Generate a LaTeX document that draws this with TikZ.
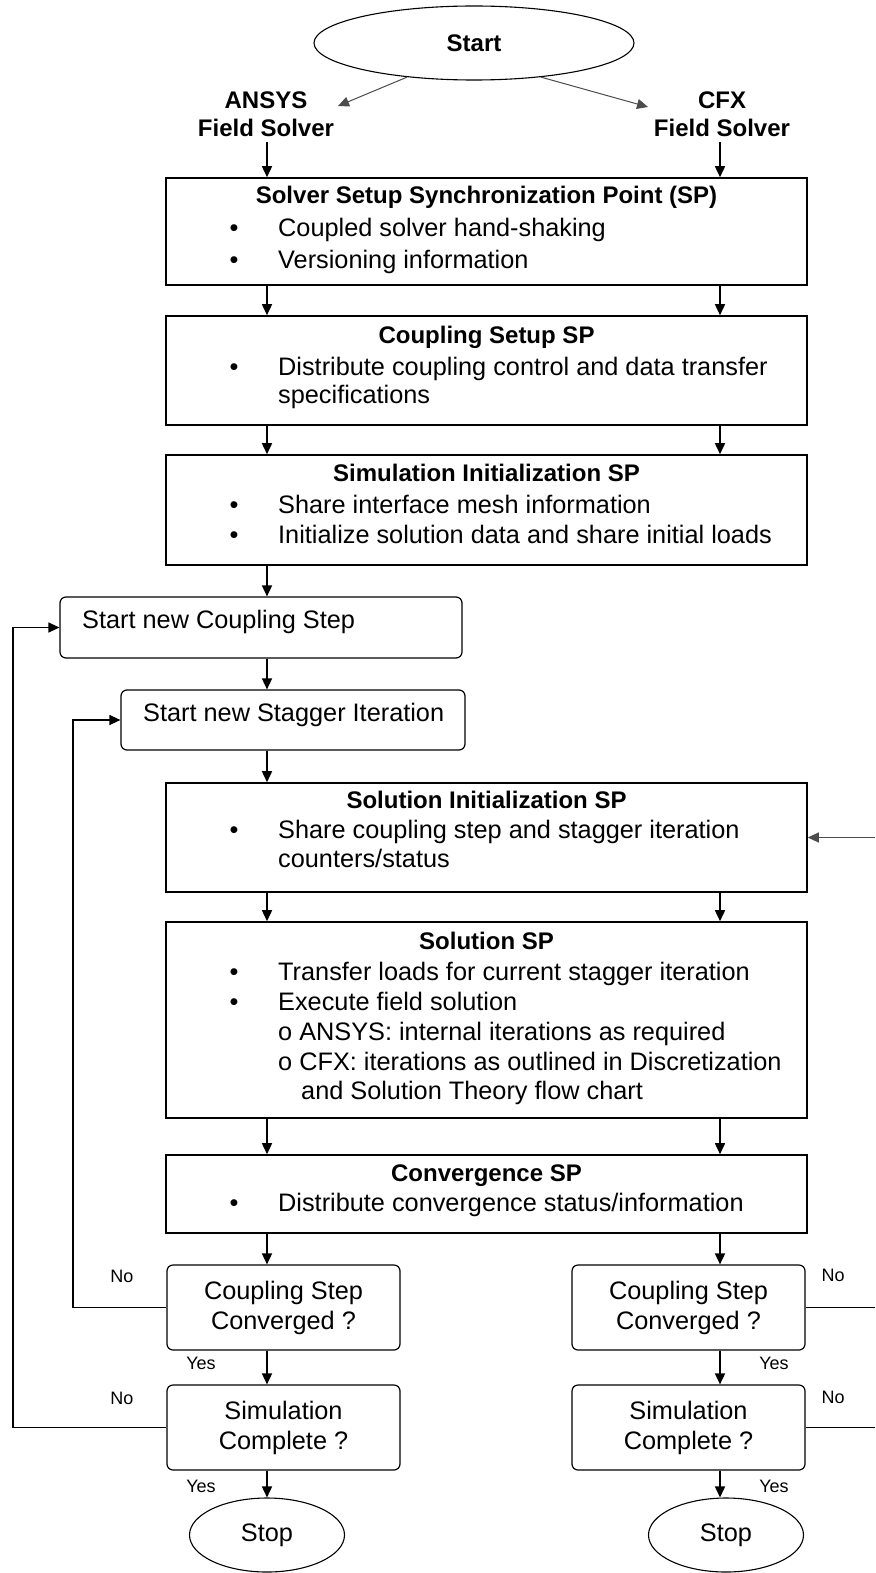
\documentclass[tikz,border=0pt]{standalone}
\usepackage{fontspec}
\setmainfont{Liberation Sans}
\usetikzlibrary{arrows.meta,shapes.geometric}
\begin{document}
\begin{tikzpicture}[x=1pt,y=1pt,
  spbox/.style={draw,line width=1.6pt,minimum width=641pt,inner sep=0pt},
  rbox/.style={draw,line width=1.2pt,rounded corners=6pt,inner sep=0pt},
  oval/.style={draw,ellipse,line width=1.1pt,inner sep=0pt},
  arr/.style={line width=1.6pt,-{Triangle[length=11pt,width=10pt]}},
  thinarr/.style={line width=1pt,gray!60!black,-{Triangle[length=11pt,width=10pt]}},
  lline/.style={line width=1.2pt},
  txt/.style={font=\fontsize{25.3}{30}\selectfont,inner sep=0pt,anchor=mid west},
  ctxt/.style={font=\fontsize{25.3}{30}\selectfont,inner sep=0pt,anchor=center,align=center},
  ttl/.style={font=\bfseries\fontsize{24}{30}\selectfont,inner sep=0pt,anchor=mid},
  bul/.style={font=\fontsize{25.3}{30}\selectfont,inner sep=0pt,anchor=mid},
  lbl/.style={font=\fontsize{18}{20}\selectfont,inner sep=0pt,anchor=mid},
  hdr/.style={font=\bfseries\fontsize{24}{30}\selectfont,inner xsep=0pt,inner ysep=5pt,anchor=mid},
]
\useasboundingbox (0,0) rectangle (875,-1573);
\fill[white] (0,0) rectangle (875,-1573);

% helper coordinates
\coordinate (ax) at (267,0);
\coordinate (bx) at (720,0);
\coordinate (lo) at (13,0);
\coordinate (li) at (73,0);
\coordinate (re) at (875,0);

% Start
\node[oval,minimum width=320pt,minimum height=74pt,font=\bfseries\fontsize{24}{28}\selectfont] (start) at (474,-43) {Start};
\coordinate (la) at (338,-106);
\coordinate (ra) at (648,-107);
\draw[thinarr] (start.207) -- (la);
\draw[thinarr] (start.-27) -- (ra);

\node[hdr] (ans) at (266,-106) {ANSYS};
\node[hdr] (fs1) at (266,-134) {Field Solver};
\node[hdr] (cfx) at (722,-106) {CFX};
\node[hdr] (fs2) at (722,-134) {Field Solver};

% SP boxes
\node[spbox,minimum height=107pt] (b1) at (486.5,-231.5) {};
\node[ttl] (b1t) at (486.5,-201) {Solver Setup Synchronization Point (SP)};
\node[bul] (b1b1) at (234,-234) {\textbullet};
\node[txt] (b1l1) at (278,-234) {Coupled solver hand-shaking};
\node[bul] (b1b2) at (234,-266) {\textbullet};
\node[txt] (b1l2) at (278,-266) {Versioning information};

\node[spbox,minimum height=109pt] (b2) at (486.5,-370.5) {};
\node[ttl] (b2t) at (486.5,-341) {Coupling Setup SP};
\node[bul] (b2b1) at (234,-373) {\textbullet};
\node[txt] (b2l1) at (278,-373) {Distribute coupling control and data transfer};
\node[txt] (b2l2) at (278,-401) {specifications};

\node[spbox,minimum height=110pt] (b3) at (486.5,-510) {};
\node[ttl] (b3t) at (486.5,-479) {Simulation Initialization SP};
\node[bul] (b3b1) at (234,-511) {\textbullet};
\node[txt] (b3l1) at (278,-511) {Share interface mesh information};
\node[bul] (b3b2) at (234,-541) {\textbullet};
\node[txt] (b3l2) at (278,-541) {Initialize solution data and share initial loads};

% Coupling step / stagger
\node[rbox,minimum width=402pt,minimum height=61pt] (cs) at (261,-627.5) {};
\node[txt] (cst) at (82,-626) {Start new Coupling Step};
\node[rbox,minimum width=344pt,minimum height=60pt] (st) at (293,-720) {};
\node[txt] (stt) at (143,-719) {Start new Stagger Iteration};

% Solution init
\node[spbox,minimum height=109pt] (si) at (486.5,-837.5) {};
\node[ttl] (sit) at (486.5,-806) {Solution Initialization SP};
\node[bul] (sib1) at (234,-836) {\textbullet};
\node[txt] (sil1) at (278,-836) {Share coupling step and stagger iteration};
\node[txt] (sil2) at (278,-865) {counters/status};

% Solution SP
\node[spbox,minimum height=196pt] (ss) at (486.5,-1020) {};
\node[ttl] (sst) at (486.5,-947) {Solution SP};
\node[bul] (ssb1) at (234,-978) {\textbullet};
\node[txt] (ssl1) at (278,-978) {Transfer loads for current stagger iteration};
\node[bul] (ssb2) at (234,-1008) {\textbullet};
\node[txt] (ssl2) at (278,-1008) {Execute field solution};
\node[txt] (ssl3) at (278,-1038) {o ANSYS: internal iterations as required};
\node[txt] (ssl4) at (278,-1068) {o CFX: iterations as outlined in Discretization};
\node[txt] (ssl5) at (301,-1097) {and Solution Theory flow chart};

% Convergence SP
\node[spbox,minimum height=78pt] (cv) at (486.5,-1194) {};
\node[ttl] (cvt) at (486.5,-1179) {Convergence SP};
\node[bul] (cvb1) at (234,-1209) {\textbullet};
\node[txt] (cvl1) at (278,-1209) {Distribute convergence status/information};

% Decisions
\node[rbox,minimum width=233pt,minimum height=85pt] (d1) at (283.5,-1307.5) {};
\node[ctxt] (d1t) at (283.5,-1307.5) {Coupling Step\\Converged ?};
\node[rbox,minimum width=233pt,minimum height=85pt] (d2) at (688.5,-1307.5) {};
\node[ctxt] (d2t) at (688.5,-1307.5) {Coupling Step\\Converged ?};
\node[rbox,minimum width=233pt,minimum height=85pt] (s1) at (283.5,-1427.5) {};
\node[ctxt] (s1t) at (283.5,-1427.5) {Simulation\\Complete ?};
\node[rbox,minimum width=233pt,minimum height=85pt] (s2) at (688.5,-1427.5) {};
\node[ctxt] (s2t) at (688.5,-1427.5) {Simulation\\Complete ?};

% Stops
\node[oval,minimum width=155pt,minimum height=74pt,font=\fontsize{25.3}{30}\selectfont] (stop1) at (267,-1535) {Stop};
\node[oval,minimum width=155pt,minimum height=74pt,font=\fontsize{25.3}{30}\selectfont] (stop2) at (726,-1535) {Stop};

% Yes / No labels
\node[lbl] (no1) at (122,-1280) {No};
\node[lbl] (no2) at (122,-1402) {No};
\node[lbl] (yes1) at (201,-1367) {Yes};
\node[lbl] (yes2) at (201,-1490) {Yes};
\node[lbl] (no3) at (833,-1279) {No};
\node[lbl] (no4) at (833,-1401) {No};
\node[lbl] (yes3) at (774,-1367) {Yes};
\node[lbl] (yes4) at (774,-1490) {Yes};

% vertical arrows
\draw[arr] (fs1.south -| ax) -- (b1.north -| ax);
\draw[arr] (fs2.south -| bx) -- (b1.north -| bx);
\draw[arr] (b1.south -| ax) -- (b2.north -| ax);
\draw[arr] (b1.south -| bx) -- (b2.north -| bx);
\draw[arr] (b2.south -| ax) -- (b3.north -| ax);
\draw[arr] (b2.south -| bx) -- (b3.north -| bx);
\draw[arr] (b3.south -| ax) -- (cs.north -| ax);
\draw[arr] (cs.south -| ax) -- (st.north -| ax);
\draw[arr] (st.south -| ax) -- (si.north -| ax);
\draw[arr] (si.south -| ax) -- (ss.north -| ax);
\draw[arr] (si.south -| bx) -- (ss.north -| bx);
\draw[arr] (ss.south -| ax) -- (cv.north -| ax);
\draw[arr] (ss.south -| bx) -- (cv.north -| bx);
\draw[arr] (cv.south -| ax) -- (d1.north -| ax);
\draw[arr] (cv.south -| bx) -- (d2.north -| bx);
\draw[arr] (d1.south -| ax) -- (s1.north -| ax);
\draw[arr] (d2.south -| bx) -- (s2.north -| bx);
\draw[arr] (s1.south -| ax) -- (stop1.north -| ax);
\draw[arr] (s2.south -| bx) -- (stop2.north -| bx);

% loops
\draw[lline,-{Triangle[length=11pt,width=10pt]}] (s1.west) -- (s1.west -| lo) -- (cs.west -| lo) -- (cs.west);
\draw[lline,-{Triangle[length=11pt,width=10pt]}] (d1.west) -- (d1.west -| li) -- (st.west -| li) -- (st.west);
\draw[lline] (d2.east) -- (d2.east -| re);
\draw[lline] (s2.east) -- (s2.east -| re);
\draw[lline,gray!60!black,-{Triangle[length=11pt,width=10pt]}] (si.east -| re) -- (si.east);
\end{tikzpicture}
\end{document}
